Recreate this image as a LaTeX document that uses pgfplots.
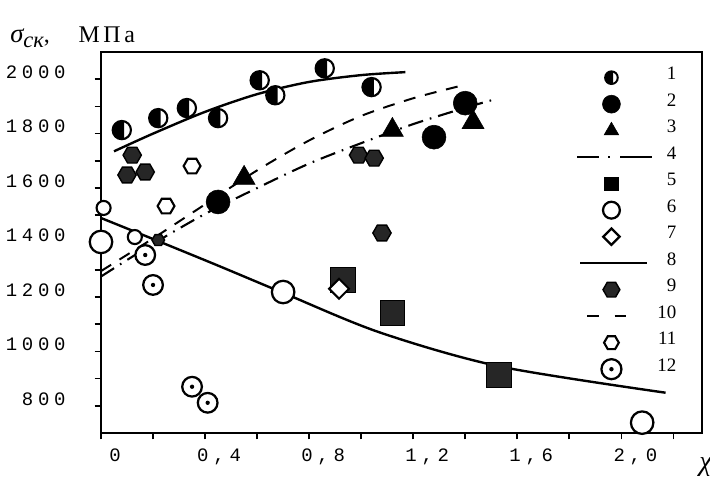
\documentclass[border=0pt]{standalone}
\usepackage{pgfplots}
\pgfplotsset{compat=1.18}
\usepackage{fontspec}
\setmainfont{Liberation Serif}
\newfontfamily\tickfont[LetterSpace=25]{Liberation Mono}

% custom marks: half-filled circle, circle with dot, hexagon
\pgfdeclareplotmark{halfcirc}{%
  \pgfpathcircle{\pgfpointorigin}{\pgfplotmarksize}%
  \pgfsetfillcolor{white}\pgfusepathqfillstroke
  \pgfpathmoveto{\pgfpointpolar{75}{\pgfplotmarksize}}%
  \pgfpatharc{75}{285}{\pgfplotmarksize}%
  \pgfpathclose
  \pgfsetfillcolor{black}\pgfusepathqfill}
\pgfdeclareplotmark{odot}{%
  \pgfpathcircle{\pgfpointorigin}{\pgfplotmarksize}%
  \pgfsetfillcolor{white}\pgfusepathqfillstroke
  \pgfpathcircle{\pgfpointorigin}{0.22\pgfplotmarksize}%
  \pgfsetfillcolor{black}\pgfusepathqfill}
\pgfdeclareplotmark{hexa}{%
  \pgfpathmoveto{\pgfpointpolar{0}{\pgfplotmarksize}}%
  \pgfpathlineto{\pgfpointpolar{60}{\pgfplotmarksize}}%
  \pgfpathlineto{\pgfpointpolar{120}{\pgfplotmarksize}}%
  \pgfpathlineto{\pgfpointpolar{180}{\pgfplotmarksize}}%
  \pgfpathlineto{\pgfpointpolar{240}{\pgfplotmarksize}}%
  \pgfpathlineto{\pgfpointpolar{300}{\pgfplotmarksize}}%
  \pgfpathclose
  \pgfusepathqfillstroke}

\begin{document}
\begin{tikzpicture}
\begin{axis}[
    scale only axis, width=15.025cm, height=9.525cm,
    at={(0,0)}, anchor=south west,
    xmin=0, xmax=2.31, ymin=700, ymax=2100,
    clip=false,
    axis line style={line width=1.8pt},
    tick align=outside, major tick length=0.16cm,
    tick style={line width=1.2pt, black},
    xtick pos=bottom, ytick pos=left,
    xtick={0,0.2,0.4,0.6,0.8,1.0,1.2,1.4,1.6,1.8,2.0,2.2},
    xticklabels={0,,{0,4},,{0,8},,{1,2},,{1,6},,{2,0},},
    ytick={800,900,1000,1100,1200,1300,1400,1500,1600,1700,1800,1900,2000},
    yticklabels={800,,1000,,1200,,1400,,1600,,1800,,2000},
    xticklabel style={font=\tickfont\fontsize{13.5}{13.5}\selectfont, xshift=0.35cm, yshift=-0.1cm},
    yticklabel style={font=\tickfont\fontsize{13.5}{13.5}\selectfont, yshift=0.175cm, xshift=-0.6cm},
    legend cell align=right,
    legend style={at={(rel axis cs:0.958,0.961)}, anchor=north east,
        draw=none, fill=none, inner sep=0pt,
        font=\fontsize{13.5}{13.5}\selectfont,
        nodes={inner sep=0pt, text height=9pt, text depth=6pt},
        row sep=3.85pt, column sep=0.1cm},
    legend image code/.code={\draw[#1, /tikz/every mark/.append style={scale=0.75}] plot coordinates {(0.85cm,0cm)};},
]

% lines first (8 - solid, 4 - dash-dot, 10 - dashed)
\addplot[black, line width=1.7pt, smooth, forget plot] coordinates {
    (0.05,1735) (0.2,1800) (0.4,1880) (0.6,1945) (0.8,1990) (1.0,2015) (1.17,2026)
};
\addplot[black, line width=1.7pt, smooth, forget plot] coordinates {
    (0,1490) (0.22,1405) (0.45,1315) (0.7,1215) (1.07,1070) (1.53,945) (2.17,848)
};
\addplot[black, line width=1.5pt, smooth, forget plot,
    dash pattern=on 11pt off 5pt on 1.2pt off 5pt] coordinates {
    (0,1275) (0.2,1395) (0.4,1505) (0.6,1600) (0.8,1690) (1.0,1765) (1.2,1835) (1.4,1895) (1.51,1925)
};
\addplot[black, line width=1.4pt, smooth, forget plot,
    dash pattern=on 8.5pt off 7pt] coordinates {
    (0,1295) (0.2,1415) (0.4,1540) (0.6,1665) (0.8,1775) (1.0,1865) (1.2,1930) (1.38,1975)
};

% 1 half-filled circles
\addplot[only marks, black, mark=halfcirc, mark size=6.5pt, line width=1.5pt, forget plot] coordinates {
    (0.08,1813) (0.22,1857) (0.33,1894) (0.45,1857) (0.61,1996) (0.67,1941) (0.86,2040) (1.04,1971)
};
% 2 filled circles
\addplot[only marks, black, mark=*, mark size=8.5pt, forget plot] coordinates {
    (0.45,1549) (1.28,1787) (1.40,1912)
};
% 3 triangles
\addplot[only marks, black, mark=triangle*, mark size=9pt, forget plot] coordinates {
    (0.55,1637) (1.12,1813) (1.43,1842)
};
% 5 squares
\addplot[only marks, black, mark=square*, mark size=8.8pt, mark options={fill=black!85}, forget plot] coordinates {
    (0.93,1262) (1.12,1141) (1.53,914)
};
% 6 open circles
\addplot[only marks, black, mark=*, mark size=8pt, line width=1.6pt, mark options={fill=white}, forget plot] coordinates {
    (0.0,1402) (0.70,1218) (2.08,738)
};
\addplot[only marks, black, mark=*, mark size=5pt, line width=1.5pt, mark options={fill=white}, forget plot] coordinates {
    (0.01,1527) (0.13,1420)
};
% 7 diamond
\addplot[only marks, black, mark=square*, mark size=5pt, line width=1.5pt, mark options={fill=white, rotate=45}, forget plot] coordinates {
    (0.915,1230)
};
% 9 dark hexagons
\addplot[only marks, black, mark=hexa, mark size=6.5pt, line width=1pt, mark options={fill=black!85}, forget plot] coordinates {
    (0.12,1721) (0.10,1648) (0.17,1659) (0.99,1721) (1.05,1710) (1.08,1435)
};
\addplot[only marks, black, mark=hexa, mark size=4.5pt, line width=1pt, mark options={fill=black!85}, forget plot] coordinates {
    (0.22,1409)
};
% 11 open hexagons
\addplot[only marks, black, mark=hexa, mark size=6pt, line width=1.5pt, mark options={fill=white}, forget plot] coordinates {
    (0.25,1534) (0.35,1681)
};
% 12 circles with dot
\addplot[only marks, black, mark=odot, mark size=7pt, line width=1.6pt, forget plot] coordinates {
    (0.17,1354) (0.20,1244) (0.35,870) (0.41,811)
};

% legend
\addlegendimage{only marks, black, mark=halfcirc, mark size=6pt, line width=1.4pt}
\addlegendimage{only marks, black, mark=*, mark size=8.5pt}
\addlegendimage{only marks, black, mark=triangle*, mark size=8pt}
\addlegendimage{legend image code/.code={\draw[black, line width=1.5pt, dash pattern=on 0.55cm off 0.22cm on 0.05cm off 0.25cm on 1cm] (0cm,0cm) -- (1.875cm,0cm);}}
\addlegendimage{only marks, black, mark=square*, mark size=6.5pt}
\addlegendimage{only marks, black, mark=*, mark size=8pt, line width=1.6pt, mark options={fill=white}}
\addlegendimage{only marks, black, mark=square*, mark size=5.5pt, line width=1.6pt, mark options={fill=white, rotate=45}}
\addlegendimage{legend image code/.code={\draw[black, line width=1.5pt] (0.075cm,0cm) -- (1.75cm,0cm);}}
\addlegendimage{only marks, black, mark=hexa, mark size=8pt, line width=1pt, mark options={fill=black!85}}
\addlegendimage{legend image code/.code={\draw[black, line width=1.4pt, dash pattern=on 0.28cm off 0.4cm] (0.25cm,0cm) -- (1.25cm,0cm);}}
\addlegendimage{only marks, black, mark=hexa, mark size=7pt, line width=1.5pt, mark options={fill=white}}
\addlegendimage{only marks, black, mark=odot, mark size=9.5pt, line width=1.6pt}
\legend{1,2,3,4,5,6,7,8,9,10,11,12}
\end{axis}

\node[anchor=base west, inner sep=0pt] at (-2.275,9.75)
    {\fontsize{17}{17}\selectfont{\fontsize{19}{19}\selectfont\itshape σ}{\fontsize{16}{16}\selectfont\itshape\raisebox{-0.4ex}{ск}},\hspace{1.2em}М\hspace{0.15em}П\hspace{0.15em}а};
\node[anchor=base west, inner sep=0pt] at (14.95,-0.95)
    {\fontsize{20}{20}\selectfont\itshape χ};

\pgfresetboundingbox
\useasboundingbox (-2.525,-1.225) rectangle (15.225,10.825);
\end{tikzpicture}
\end{document}
